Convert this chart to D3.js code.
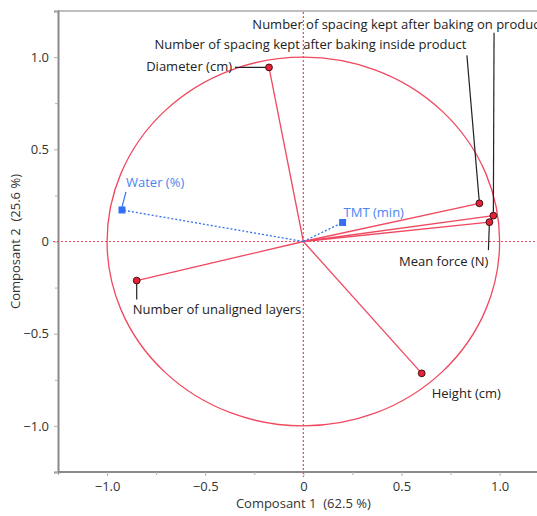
<!DOCTYPE html>
<html>
<head>
<meta charset="utf-8">
<script src="https://cdn.jsdelivr.net/npm/d3@7"></script>
<style>
  body { margin: 0; background: #fff; }
  svg { display: block; font-family: "Open Sans", "Noto Sans", sans-serif; }
</style>
</head>
<body>
<div id="chart"></div>
<script>
(function(){
// variables and their loadings on the first two components
const variables = [
    "Diameter (cm)",
    "Number of spacing kept after baking inside product",
    "Number of spacing kept after baking on product",
    "Mean force (N)",
    "Number of unaligned layers",
    "Height (cm)",
    "Water (%)",
    "TMT (min)"
];
const comp1 = [-0.175, 0.897, 0.968, 0.948, -0.849, 0.603, -0.924, 0.200];
const comp2 = [0.944, 0.207, 0.140, 0.105, -0.212, -0.715, 0.171, 0.103];
const supplementary = [false, false, false, false, false, false, true, true];
const ticks = [-1.0, -0.5, 0, 0.5, 1.0];
const minorTicks = [-1.25, -0.75, -0.25, 0.25, 0.75, 1.25];
const xTitle = "Composant 1  (62.5 %)";
const yTitle = "Composant 2  (25.6 %)";

// label placement, pixels relative to the point
const labelPos = {
    "Diameter (cm)": { dx: -37, dy: 4, anchor: "end", lead: [[-34, 0], [0, 0]] },
    "Number of spacing kept after baking inside product": { dx: -13, dy: -154, anchor: "end", lead: [[-12.5, -148], [0, 0]] },
    "Number of spacing kept after baking on product": { dx: -241, dy: -187, anchor: "start", lead: [[0.7, -183], [0, 0]] },
    "Mean force (N)": { dx: -1, dy: 44, anchor: "end", lead: [[0, 0], [-1, 28]] },
    "Number of unaligned layers": { dx: -4, dy: 33, anchor: "start", lead: [[0, 0], [0, 19]] },
    "Height (cm)": { dx: 10, dy: 25, anchor: "start", lead: null },
    "Water (%)": { dx: 4, dy: -23, anchor: "start", lead: [[4, -18], [0, -3]] },
    "TMT (min)": { dx: 1, dy: -6, anchor: "start", lead: null }
};

const W = 537, H = 516;
const red = "#f0485f", blue = "#3470f0", axisGrey = "#8a8a8a";
const fs = "13px";

const x = d3.scaleLinear().domain([-1.25, 1.25]).range([58, 548.7]);
const y = d3.scaleLinear().domain([-1.25, 1.25]).range([472, 11]);

const svg = d3.select("#chart").append("svg")
    .attr("width", W)
    .attr("height", H);

// frame: top, left, bottom
svg.append("line").attr("x1", x(-1.25)).attr("x2", W).attr("y1", y(1.25)).attr("y2", y(1.25))
    .attr("stroke", "#aaa").attr("stroke-width", 1.5);

const fmt = d => d === 0 ? "0" : d3.format(".1f")(d);
const xAxis = svg.append("g")
    .attr("transform", "translate(0," + y(-1.25) + ")")
    .call(d3.axisBottom(x).tickValues(ticks).tickSize(4).tickPadding(6).tickFormat(fmt));
const xMinor = svg.append("g")
    .attr("transform", "translate(0," + y(-1.25) + ")")
    .call(d3.axisBottom(x).tickValues(minorTicks).tickSize(3).tickFormat(""));

const yAxis = svg.append("g")
    .attr("transform", "translate(" + x(-1.25) + ",0)")
    .call(d3.axisLeft(y).tickValues(ticks).tickSize(4).tickPadding(5).tickFormat(fmt));
const yMinor = svg.append("g")
    .attr("transform", "translate(" + x(-1.25) + ",0)")
    .call(d3.axisLeft(y).tickValues(minorTicks).tickSize(3).tickFormat(""));

[xAxis, xMinor, yAxis, yMinor].forEach(function(g) {
    g.select(".domain").attr("stroke", axisGrey).attr("stroke-width", 2);
    g.selectAll(".tick line").attr("stroke", "#b0b0b0");
    g.selectAll(".tick text").attr("fill", "#333").style("font-size", fs)
        .style("font-family", "'Open Sans', sans-serif");
});
xAxis.select(".domain").attr("d", "M" + x(-1.25) + ",0H" + W);
xMinor.select(".domain").remove();
yMinor.select(".domain").remove();

// axis titles
svg.append("text")
    .attr("x", x(0)).attr("y", 508)
    .attr("text-anchor", "middle")
    .attr("fill", "#333").style("font-size", fs)
    .style("white-space", "pre")
    .text(xTitle);
svg.append("text")
    .attr("transform", "translate(20," + y(0) + ") rotate(-90)")
    .attr("text-anchor", "middle")
    .attr("fill", "#333").style("font-size", fs)
    .style("white-space", "pre")
    .text(yTitle);

// origin reference lines
svg.append("line")
    .attr("x1", x(-1.25) - 5).attr("x2", W).attr("y1", y(0)).attr("y2", y(0))
    .attr("stroke", red).attr("stroke-dasharray", "2,2").attr("stroke-width", 1.2);
svg.append("line")
    .attr("x1", x(0)).attr("x2", x(0)).attr("y1", y(1.25) + 1).attr("y2", y(-1.25) + 5)
    .attr("stroke", red).attr("stroke-dasharray", "2,2").attr("stroke-width", 1.2);

// correlation circle
svg.append("ellipse")
    .attr("cx", x(0)).attr("cy", y(0))
    .attr("rx", x(1) - x(0)).attr("ry", y(0) - y(1))
    .attr("fill", "none").attr("stroke", red).attr("stroke-width", 1.3);

const data = variables.map(function(name, i) {
    return { name: name, c1: comp1[i], c2: comp2[i], sup: supplementary[i] };
});

// vectors
svg.selectAll("line.vec").data(data).enter().append("line")
    .attr("class", "vec")
    .attr("x1", x(0)).attr("y1", y(0))
    .attr("x2", d => x(d.c1)).attr("y2", d => y(d.c2))
    .attr("stroke", d => d.sup ? blue : red)
    .attr("stroke-width", 1.3)
    .attr("stroke-dasharray", d => d.sup ? "2,2" : null);

// leader lines
svg.selectAll("line.lead").data(data.filter(d => labelPos[d.name].lead)).enter().append("line")
    .attr("class", "lead")
    .attr("x1", d => x(d.c1) + labelPos[d.name].lead[0][0])
    .attr("y1", d => y(d.c2) + labelPos[d.name].lead[0][1])
    .attr("x2", d => x(d.c1) + labelPos[d.name].lead[1][0])
    .attr("y2", d => y(d.c2) + labelPos[d.name].lead[1][1])
    .attr("stroke", d => d.sup ? blue : "#222")
    .attr("stroke-width", 1.2);

// markers
const pts = svg.selectAll("g.pt").data(data).enter().append("g")
    .attr("class", "pt")
    .attr("transform", d => "translate(" + x(d.c1) + "," + y(d.c2) + ")");
pts.filter(d => !d.sup).append("circle")
    .attr("r", 3.4)
    .attr("fill", "#e8203a")
    .attr("stroke", "#401010").attr("stroke-width", 1);
pts.filter(d => d.sup).append("rect")
    .attr("x", -3.5).attr("y", -3.5).attr("width", 7).attr("height", 7)
    .attr("fill", blue);

// labels
svg.selectAll("text.lbl").data(data).enter().append("text")
    .attr("class", "lbl")
    .attr("x", d => x(d.c1) + labelPos[d.name].dx)
    .attr("y", d => y(d.c2) + labelPos[d.name].dy)
    .attr("text-anchor", d => labelPos[d.name].anchor)
    .attr("fill", d => d.sup ? "#4a84f5" : "#222")
    .style("font-size", fs)
    .text(d => d.name);
})();
</script>
</body>
</html>
